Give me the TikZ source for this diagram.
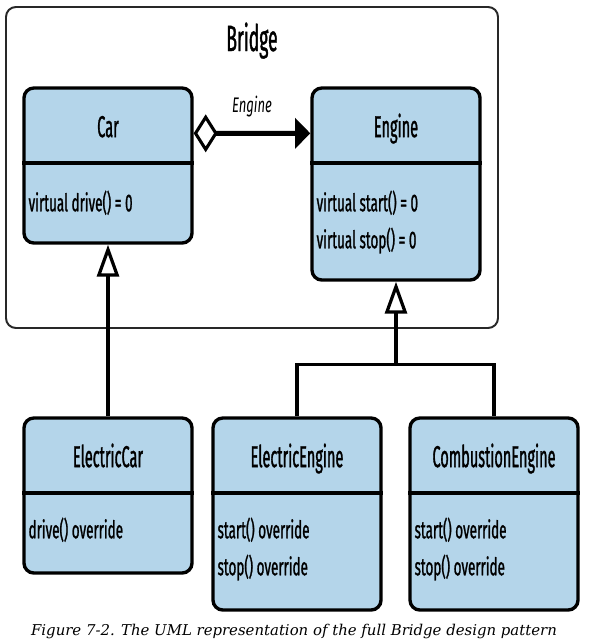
\documentclass[tikz,border=0pt]{standalone}
\usepackage{fontspec}
\newfontfamily\classfont[FakeStretch=0.48, FakeBold=1]{Fira Sans}
\newfontfamily\umlfont[FakeStretch=0.55, FakeBold=1]{Fira Sans}
\newfontfamily\rolefont[FakeStretch=0.62]{Fira Sans}
\newfontfamily\captionfont{DejaVu Serif}
\usetikzlibrary{arrows.meta,positioning,calc}
\definecolor{classblue}{RGB}{180,213,234}
\definecolor{framegray}{RGB}{40,40,40}

\begin{document}
\begin{tikzpicture}[auto,
    frame/.style ={draw=framegray, line width=1.4pt, rounded corners=7pt,
                   minimum width=12.3cm, minimum height=8.025cm},
    classbox/.style ={draw, line width=2.4pt, rounded corners=7pt, fill=classblue,
                      minimum width=4.2cm},
    shortbox/.style ={classbox, minimum height=3.875cm},
    tallbox/.style ={classbox, minimum height=4.8cm},
    title/.style ={font=\classfont\fontsize{26}{30}\selectfont, inner sep=0pt, anchor=base},
    classname/.style ={font=\classfont\fontsize{21.5}{25}\selectfont, inner sep=0pt, anchor=base},
    member/.style ={font=\umlfont\fontsize{17.4}{21}\selectfont, inner sep=0pt, anchor=base west},
    role/.style ={font=\rolefont\itshape\fontsize{15}{18}\selectfont, inner sep=0pt, anchor=base},
    divider/.style ={line width=2.6pt},
    link/.style ={line width=2.3pt},
    inherit/.style ={link, -{Triangle[open, fill=white, length=0.8cm, width=0.55cm]}},
    aggregation/.style ={line width=3.6pt,
        {Diamond[open, fill=white, line width=2.2pt, length=0.6cm, width=0.95cm]}-{Triangle[length=0.38cm, width=0.75cm]}}]
   \useasboundingbox (0,0) rectangle (14.8,-16.075);

   % Bridge frame
   \node[frame] (bridge) at (6.3,-4.1875) {};
   \node[title] (bridgetitle) at ([yshift=-1.125cm]bridge.north) {Bridge};

   % abstraction and implementor
   \node[shortbox] (car) at (2.7,-4.1375) {};
   \node[tallbox] (engine) at (9.9,-4.6) {};
   % concrete classes
   \node[shortbox] (ecar) at (2.7,-12.3875) {};
   \node[tallbox] (eengine) at (7.425,-12.85) {};
   \node[tallbox] (cengine) at (12.35,-12.85) {};

   % class names
   \node[classname] (carname) at ([yshift=-1.27cm]car.north) {Car};
   \node[classname] (enginename) at ([yshift=-1.27cm]engine.north) {Engine};
   \node[classname] (ecarname) at ([yshift=-1.27cm]ecar.north) {ElectricCar};
   \node[classname] (eenginename) at ([yshift=-1.27cm]eengine.north) {ElectricEngine};
   \node[classname] (cenginename) at ([yshift=-1.27cm]cengine.north) {CombustionEngine};

   % dividers
   \foreach \cls in {car, engine, ecar, eengine, cengine}
      \draw[divider] ([yshift=-1.925cm]\cls.north west) -- ([yshift=-1.925cm]\cls.north east);

   % members
   \node[member] (cardrive) at ([xshift=0.15cm, yshift=-3.125cm]car.north west) {virtual drive() = 0};
   \node[member] (enginestart) at ([xshift=0.15cm, yshift=-3.125cm]engine.north west) {virtual start() = 0};
   \node[member] (enginestop) at ([xshift=0.15cm, yshift=-4.05cm]engine.north west) {virtual stop() = 0};
   \node[member] (ecardrive) at ([xshift=0.15cm, yshift=-3.05cm]ecar.north west) {drive() override};
   \node[member] (eenginestart) at ([xshift=0.15cm, yshift=-3.05cm]eengine.north west) {start() override};
   \node[member] (eenginestop) at ([xshift=0.15cm, yshift=-3.975cm]eengine.north west) {stop() override};
   \node[member] (cenginestart) at ([xshift=0.15cm, yshift=-3.05cm]cengine.north west) {start() override};
   \node[member] (cenginestop) at ([xshift=0.15cm, yshift=-3.975cm]cengine.north west) {stop() override};

   % connectors
   \draw[aggregation] ([yshift=-1.175cm]car.north east) to
      node[role, yshift=0.53cm] (enginerole) {Engine} ([yshift=-1.175cm]engine.north west);
   \draw[inherit] (ecar) to (car);
   \coordinate (fork) at ([yshift=-2.075cm]engine.south);
   \draw[inherit] (fork) to (engine);
   \draw[link] (eengine) |- (fork) -| (cengine);

   % caption
   \node[font=\captionfont\itshape\fontsize{10.6}{13}\selectfont, inner sep=0pt, anchor=base]
      (caption) at (7.35,-15.875) {Figure 7-2. The UML representation of the full Bridge design pattern};
\end{tikzpicture}
\end{document}
